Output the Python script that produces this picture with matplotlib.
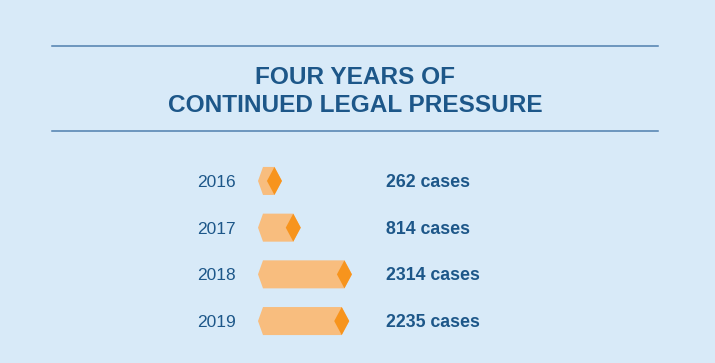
import matplotlib.pyplot as plt
from matplotlib.patches import Polygon
from matplotlib.lines import Line2D

years = ["2016", "2017", "2018", "2019"]
cases = [262, 814, 2314, 2235]
case_labels = ["262 cases", "814 cases", "2314 cases", "2235 cases"]

bg = "#d8eaf8"
navy = "#1d5789"
light = "#f8bd7e"
dark = "#f7941d"

W, H = 715, 363
fig = plt.figure(figsize=(W / 100, H / 100), dpi=100, facecolor=bg)

# rules and title
for ypx in (46, 131):
    fig.add_artist(Line2D([52 / W, 658 / W], [1 - ypx / H] * 2, color="#4f7fae", lw=1.1))
fig.text(355 / W, 1 - 77 / H, "FOUR YEARS OF", ha="center", va="center",
         fontsize=17.6, fontweight="bold", color=navy, family="Liberation Sans")
fig.text(355 / W, 1 - 106 / H, "CONTINUED LEGAL PRESSURE", ha="center", va="center",
         fontsize=17.6, fontweight="bold", color=navy, family="Liberation Sans")

# bars axes: x=0 at pixel 258, one pixel ~ 29.3 cases
k = 29.32
top, bot = 157.6, 344.4
ax = fig.add_axes([0, 1 - bot / H, 1, (bot - top) / H])
ax.set_xlim(-258 * k, (W - 258) * k)
ax.set_ylim(len(years) - 0.5, -0.5)
ax.axis("off")

h = 0.3            # half bar height
cham = 5 * k       # left chamfer
dw = 15 * k        # diamond width
for i, v in enumerate(cases):
    body = [(0, i), (cham, i - h), (v + dw / 2, i - h), (v + dw, i),
            (v + dw / 2, i + h), (cham, i + h)]
    ax.add_patch(Polygon(body, closed=True, fc=light, ec="none"))
    diamond = [(v, i), (v + dw / 2, i - h), (v + dw, i), (v + dw / 2, i + h)]
    ax.add_patch(Polygon(diamond, closed=True, fc=dark, ec="none"))
    ax.text(-22 * k, i + 0.03, years[i], ha="right", va="center", fontsize=12.5,
            color=navy, family="Liberation Sans")
    ax.text(128 * k, i + 0.03, case_labels[i], ha="left", va="center", fontsize=12.8,
            fontweight="bold", color=navy, family="Liberation Sans")

fig.savefig("out.png", dpi=100, facecolor=bg)
